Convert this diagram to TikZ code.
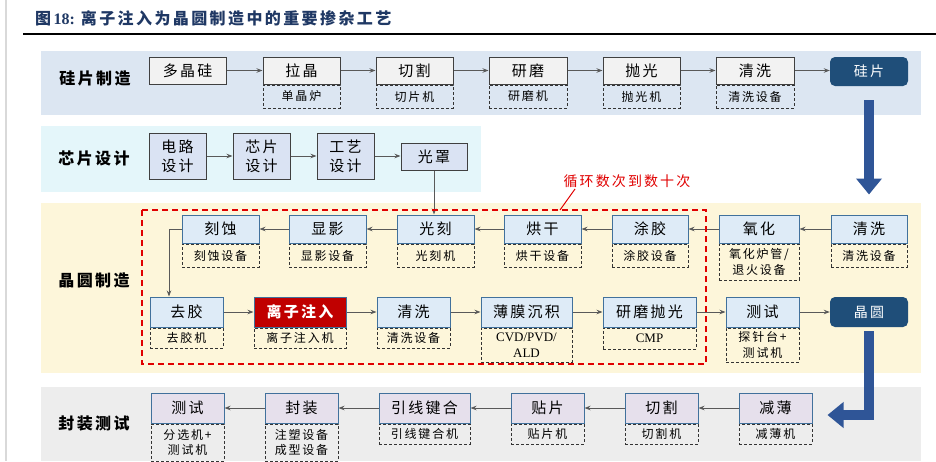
\documentclass[tikz,border=0pt]{standalone}
\usepackage{fontspec}
\usepackage{xcolor}
\usepackage{tikz}
\usetikzlibrary{positioning,arrows.meta}
\setmainfont{Liberation Serif}
\newfontfamily\cjk{Noto Sans CJK SC}[LetterSpace=15]

\definecolor{keyblue}{HTML}{1F4E79}
\definecolor{arrowblue}{HTML}{2F5597}
\definecolor{titleblue}{HTML}{1F3864}
\definecolor{edgeblue}{HTML}{41719C}
\definecolor{bandsi}{HTML}{DCE6F2}
\definecolor{banddsg}{HTML}{E4F6FA}
\definecolor{bandwf}{HTML}{FDF6DA}
\definecolor{bandpk}{HTML}{EDEDED}
\definecolor{loopred}{HTML}{E00000}

\begin{document}
\begin{tikzpicture}[x=1pt, y=-1pt,
        box/.style={rectangle, inner sep=0pt, align=center, font=\cjk\fontsize{15}{19}\selectfont},
        sibox/.style={box, draw=black!75, line width=1pt, fill=gray!10, minimum height=27pt},
        dsgbox/.style={box, draw=black!75, line width=1pt, fill={rgb,255:red,218;green,227;blue,243}},
        wfbox/.style={box, draw=edgeblue, line width=1pt, fill={rgb,255:red,222;green,235;blue,247}, minimum height=28pt},
        pkbox/.style={box, draw=edgeblue, line width=1pt, fill={rgb,255:red,230;green,224;blue,236}, minimum height=30pt},
        keybox/.style={box, rounded corners=5pt, fill=keyblue, text=white, font=\cjk\fontsize{14}{16}\selectfont},
        hotbox/.style={box, draw=edgeblue, line width=1pt, fill={rgb,255:red,192;green,0;blue,0}, text=white, font=\cjk\bfseries\fontsize{15}{19}\selectfont, minimum height=30pt},
        subbox/.style={rectangle, inner sep=0pt, align=center, draw=black!80, dashed, dash pattern=on 3pt off 2pt, line width=0.9pt, font=\cjk\fontsize{12}{15.5}\selectfont, minimum height=23pt},
        band/.style={font=\cjk\bfseries\fontsize{16}{16}\selectfont},
        flow/.style={-{Stealth[length=6pt,width=4.5pt]}, draw=black!65, line width=0.9pt},
        bigarrow/.style={-{Triangle[length=16pt,width=25pt]}, draw=arrowblue, line width=10pt}
    ]
    \useasboundingbox (0,0) rectangle (936,461);
    \draw[gray!30, line width=1.5pt] (6,0) -- (6,461);

    % Title
    \node[anchor=west, text=titleblue, inner sep=0pt] (title) at (35,18)
        {\fontsize{16}{16}\selectfont{\cjk\bfseries 图}\textbf{18:}\hspace{6pt}{\cjk\bfseries 离子注入为晶圆制造中的重要掺杂工艺}};
    \draw[black, line width=2pt] (23,34) -- (936,34);

    % Bands
    \fill[bandsi] (41,51) rectangle (921,115);
    \fill[banddsg] (41,126) rectangle (481,192);
    \fill[bandwf] (41,203) rectangle (921,373);
    \fill[bandpk] (41,387) rectangle (921,461);
    \node[band] (lsi) at (95,78) {硅片制造};
    \node[band] (ldsg) at (94,158) {芯片设计};
    \node[band] (lwf) at (94,280) {晶圆制造};
    \node[band] (lpk) at (94,423) {封装测试};

    % Silicon wafer making
    \node[sibox, minimum width=77pt] (poly) at (187.5,70.5) {多晶硅};
    \node[sibox, minimum width=77pt] (pull) at (301.5,70.5) {拉晶};
    \node[sibox, minimum width=77pt] (cut) at (414.5,70.5) {切割};
    \node[sibox, minimum width=78pt] (grind) at (528,70.5) {研磨};
    \node[sibox, minimum width=77pt] (polish) at (641.5,70.5) {抛光};
    \node[sibox, minimum width=78pt] (sclean) at (755,70.5) {清洗};
    \node[keybox, minimum width=78pt, minimum height=29pt] (si) at (869,71.5) {硅片};
    \node[subbox, minimum width=77pt, below=0pt of pull] (pullsub) {单晶炉};
    \node[subbox, minimum width=77pt, below=0pt of cut] (cutsub) {切片机};
    \node[subbox, minimum width=78pt, below=0pt of grind] (grindsub) {研磨机};
    \node[subbox, minimum width=77pt, below=0pt of polish] (polishsub) {抛光机};
    \node[subbox, minimum width=78pt, below=0pt of sclean] (scleansub) {清洗设备};
    \draw[flow] (poly) -- (pull);
    \draw[flow] (pull) -- (cut);
    \draw[flow] (cut) -- (grind);
    \draw[flow] (grind) -- (polish);
    \draw[flow] (polish) -- (sclean);
    \draw[flow] (sclean.east) -- (si.west |- sclean.east);

    % Chip design
    \node[dsgbox, minimum width=57pt, minimum height=46pt] (circ) at (177.5,156) {电路\\设计};
    \node[dsgbox, minimum width=57pt, minimum height=46pt] (chip) at (261.5,156) {芯片\\设计};
    \node[dsgbox, minimum width=57pt, minimum height=46pt] (proc) at (345.5,156) {工艺\\设计};
    \node[dsgbox, minimum width=66pt, minimum height=27pt] (mask) at (434,156.5) {光罩};
    \draw[flow] (circ) -- (chip);
    \draw[flow] (chip) -- (proc);
    \draw[flow] (proc.east) -- (mask.west |- proc.east);

    % Wafer making, first row
    \node[wfbox, minimum width=77pt] (etch) at (220.5,229) {刻蚀};
    \node[wfbox, minimum width=77pt] (dev) at (327.5,229) {显影};
    \node[wfbox, minimum width=77pt] (litho) at (435.5,229) {光刻};
    \node[wfbox, minimum width=77pt] (bake) at (542.5,229) {烘干};
    \node[wfbox, minimum width=76pt] (coat) at (650,229) {涂胶};
    \node[wfbox, minimum width=80pt] (oxid) at (759,229) {氧化};
    \node[wfbox, minimum width=76pt] (wclean) at (869,229) {清洗};
    \node[subbox, minimum width=77pt, below=0pt of etch] (etchsub) {刻蚀设备};
    \node[subbox, minimum width=77pt, below=0pt of dev] (devsub) {显影设备};
    \node[subbox, minimum width=77pt, below=0pt of litho] (lithosub) {光刻机};
    \node[subbox, minimum width=77pt, below=0pt of bake] (bakesub) {烘干设备};
    \node[subbox, minimum width=76pt, below=0pt of coat] (coatsub) {涂胶设备};
    \node[subbox, minimum width=80pt, minimum height=36pt, below=0pt of oxid] (oxidsub) {氧化炉管/\\退火设备};
    \node[subbox, minimum width=76pt, below=0pt of wclean] (wcleansub) {清洗设备};
    \draw[flow] (wclean) -- (oxid);
    \draw[flow] (oxid) -- (coat);
    \draw[flow] (coat) -- (bake);
    \draw[flow] (bake) -- (litho);
    \draw[flow] (litho) -- (dev);
    \draw[flow] (dev) -- (etch);

    % Wafer making, second row
    \node[wfbox, minimum width=73pt, minimum height=30pt] (strip) at (186.5,312) {去胶};
    \node[hotbox, minimum width=92pt] (implant) at (300,312) {离子注入};
    \node[wfbox, minimum width=73pt, minimum height=30pt] (wclean2) at (413.5,312) {清洗};
    \node[wfbox, minimum width=91pt, minimum height=30pt] (film) at (526.5,312) {薄膜沉积};
    \node[wfbox, minimum width=93pt, minimum height=30pt] (cmp) at (649.5,312) {研磨抛光};
    \node[wfbox, minimum width=73pt, minimum height=30pt] (test) at (762.5,312) {测试};
    \node[keybox, minimum width=78pt, minimum height=30pt] (wafer) at (869,312) {晶圆};
    \node[subbox, minimum width=73pt, minimum height=20pt, below=0pt of strip] (stripsub) {去胶机};
    \node[subbox, minimum width=92pt, minimum height=20pt, below=0pt of implant] (implantsub) {离子注入机};
    \node[subbox, minimum width=73pt, minimum height=20pt, below=0pt of wclean2] (wclean2sub) {清洗设备};
    \node[subbox, minimum width=91pt, minimum height=34pt, below=0pt of film, font=\fontsize{13}{16}\selectfont] (filmsub) {CVD/PVD/\\ALD};
    \node[subbox, minimum width=93pt, minimum height=21pt, below=0pt of cmp, font=\fontsize{13}{16}\selectfont] (cmpsub) {CMP};
    \node[subbox, minimum width=73pt, minimum height=34pt, below=0pt of test] (testsub) {探针台+\\测试机};
    \coordinate (bend) at (169,229);
    \draw[flow] (etch.west) -- (bend) -- (bend |- strip.north);
    \draw[flow] (strip) -- (implant);
    \draw[flow] (implant) -- (wclean2);
    \draw[flow] (wclean2) -- (film);
    \draw[flow] (film) -- (cmp);
    \draw[flow] (cmp) -- (test);
    \draw[flow] (test) -- (wafer);
    \draw[flow] (mask) -- (mask |- litho.north);

    % Loop frame
    \draw[loopred, line width=1.5pt, dash pattern=on 6pt off 4pt] (142,210) rectangle (706,364);
    \node[text=loopred, font=\cjk\fontsize{14}{14}\selectfont] (looptxt) at (627,181) {循环数次到数十次};
    \coordinate (loopmark) at (560,210);
    \draw[loopred, line width=1pt] (575,189) -- (loopmark);

    % Packaging and test
    \node[pkbox, minimum width=73pt] (ptest) at (187.5,408) {测试};
    \node[pkbox, minimum width=73pt] (encap) at (301.5,408) {封装};
    \node[pkbox, minimum width=91pt] (bond) at (424.5,408) {引线键合};
    \node[pkbox, minimum width=73pt] (attach) at (547.5,408) {贴片};
    \node[pkbox, minimum width=73pt] (dice) at (661.5,408) {切割};
    \node[pkbox, minimum width=73pt] (thin) at (775.5,408) {减薄};
    \node[subbox, minimum width=73pt, minimum height=37pt, below=0pt of ptest] (ptestsub) {分选机+\\测试机};
    \node[subbox, minimum width=73pt, minimum height=37pt, below=0pt of encap] (encapsub) {注塑设备\\成型设备};
    \node[subbox, minimum width=91pt, minimum height=20pt, below=0pt of bond] (bondsub) {引线键合机};
    \node[subbox, minimum width=73pt, minimum height=20pt, below=0pt of attach] (attachsub) {贴片机};
    \node[subbox, minimum width=73pt, minimum height=20pt, below=0pt of dice] (dicesub) {切割机};
    \node[subbox, minimum width=73pt, minimum height=20pt, below=0pt of thin] (thinsub) {减薄机};
    \draw[flow] (thin) -- (dice);
    \draw[flow] (dice) -- (attach);
    \draw[flow] (attach) -- (bond);
    \draw[flow] (bond) -- (encap);
    \draw[flow] (encap) -- (ptest);

    % Big arrows
    \draw[bigarrow] ([yshift=-14pt]si.south) -- ([yshift=20pt]wclean.north);
    \draw[bigarrow, line join=miter] ([yshift=-4pt]wafer.south) |- ([xshift=15pt,yshift=-7pt]thin.east);
\end{tikzpicture}
\end{document}
